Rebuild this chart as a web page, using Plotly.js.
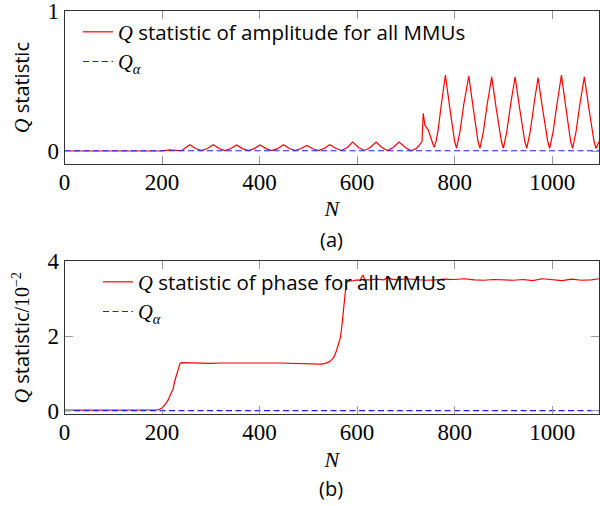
<!DOCTYPE html>
<html>
<head>
<meta charset="utf-8">
<script src="https://cdn.plot.ly/plotly-3.0.1.min.js"></script>
<style>html,body{margin:0;padding:0;background:#fff;}</style>
</head>
<body>
<div id="chart" style="width:600px;height:506px;"></div>
<script>
// ---- data ----
const ampN = [0, 200, 215, 230, 240,
  257, 269, 281, 293,
  305, 317, 329, 341,
  353, 365, 377, 389,
  401, 413, 425, 437,
  449, 461, 473, 485,
  497, 509, 520, 532,
  544, 556, 568, 580,
  591, 603, 615, 627,
  639, 651, 662, 674,
  686, 699, 711, 722, 733, 735.6, 739, 746, 752.7, 758, 762, 766, 773,
  781, 790, 797, 800, 804, 807, 811, 819,
  829, 838, 845, 848, 852, 855, 859, 867,
  876, 885, 892, 896, 900, 903, 907, 915,
  924, 933, 940, 944, 948, 951, 955, 963,
  971, 980, 987, 991, 995, 998, 1002, 1010,
  1019, 1028, 1035, 1038, 1042, 1045, 1049, 1057,
  1066, 1075, 1082, 1086, 1090, 1093, 1096];
const ampQ = [0, 0, 0.008, 0.006, 0.002,
  0.045, 0.018, 0.003, 0.018,
  0.045, 0.018, 0.003, 0.018,
  0.043, 0.017, 0.003, 0.017,
  0.043, 0.017, 0.003, 0.017,
  0.045, 0.018, 0.003, 0.018,
  0.040, 0.016, 0.003, 0.018,
  0.045, 0.020, 0.004, 0.025,
  0.064, 0.025, 0.004, 0.025,
  0.064, 0.025, 0.004, 0.025,
  0.064, 0.025, 0.002, 0.020, 0.066, 0.270, 0.186, 0.150, 0.079, 0.026, 0.070, 0.150, 0.340,
  0.543, 0.31, 0.14, 0.066, 0.020, 0.066, 0.14, 0.34,
  0.536, 0.31, 0.14, 0.066, 0.020, 0.066, 0.14, 0.34,
  0.531, 0.31, 0.14, 0.066, 0.020, 0.066, 0.14, 0.34,
  0.531, 0.31, 0.14, 0.066, 0.020, 0.066, 0.14, 0.34,
  0.526, 0.31, 0.14, 0.066, 0.020, 0.066, 0.14, 0.34,
  0.543, 0.31, 0.14, 0.066, 0.020, 0.066, 0.14, 0.34,
  0.531, 0.31, 0.14, 0.066, 0.020, 0.045, 0.066];
const ampLimitN = [0, 1096];
const ampLimitQ = [0.002, 0.002];

const phN = [0, 50, 100, 150, 190, 196, 202, 208, 213, 216, 220, 223, 226, 230, 234, 237, 240,
  260, 280, 300, 320, 340, 360, 380, 400, 420, 440, 460, 480, 500, 515, 525, 535, 542, 548,
  553, 558, 563, 566, 569, 572, 575, 578, 582, 590, 600, 606, 612, 616, 625, 640, 655, 664,
  670, 685, 700, 720, 740, 760, 780, 800, 820, 840, 860, 880, 900, 920, 940, 960, 980, 1000,
  1020, 1040, 1060, 1080, 1096];
const phQ = [0.02, 0.02, 0.02, 0.02, 0.03, 0.05, 0.10, 0.20, 0.30, 0.40, 0.52, 0.60, 0.80, 0.98, 1.15, 1.27, 1.29,
  1.28, 1.28, 1.27, 1.28, 1.27, 1.28, 1.28, 1.27, 1.28, 1.28, 1.27, 1.27, 1.26, 1.25, 1.25, 1.27, 1.31, 1.37,
  1.45, 1.62, 1.88, 1.97, 2.30, 2.75, 3.15, 3.45, 3.48, 3.47, 3.50, 3.49, 3.63, 3.50, 3.50, 3.52, 3.50, 3.58,
  3.52, 3.50, 3.53, 3.51, 3.49, 3.50, 3.52, 3.51, 3.53, 3.50, 3.49, 3.51, 3.50, 3.49, 3.51, 3.48, 3.53, 3.50,
  3.48, 3.52, 3.49, 3.50, 3.53];
const phLimitN = [0, 1096];
const phLimitQ = [0.01, 0.01];

const xTicks = [0, 200, 400, 600, 800, 1000];
const yTicksTop = [0, 1];
const yTicksBottom = [0, 2, 4];

// ---- styling ----
const SERIF = 'Liberation Serif';
const SANS = 'Open Sans';
const qI = `<span style="font-family:${SERIF}"><i>Q</i></span>`;
const qAlpha = `<span style="font-family:${SERIF}"><i>Q</i><sub><i>α</i></sub></span>`;

const red = {color: '#ff0000', width: 1.2};
const blue = {color: '#1f1fff', width: 1.2, dash: '6px,3.5px'};

const traces = [
  {x: ampN, y: ampQ, type: 'scatter', mode: 'lines', line: red, xaxis: 'x', yaxis: 'y',
   name: qI + ' statistic of amplitude for all MMUs', legend: 'legend'},
  {x: ampLimitN, y: ampLimitQ, type: 'scatter', mode: 'lines', line: blue, xaxis: 'x', yaxis: 'y',
   name: qAlpha, legend: 'legend'},
  {x: phN, y: phQ, type: 'scatter', mode: 'lines', line: red, xaxis: 'x2', yaxis: 'y2',
   name: qI + ' statistic of phase for all MMUs', legend: 'legend2'},
  {x: phLimitN, y: phLimitQ, type: 'scatter', mode: 'lines', line: blue, xaxis: 'x2', yaxis: 'y2',
   name: qAlpha, legend: 'legend2'}
];

const axCommon = {
  showline: true, linecolor: '#333', linewidth: 1, mirror: 'allticks',
  ticks: 'inside', ticklen: 8, tickcolor: '#999', tickwidth: 1,
  showgrid: false, zeroline: false, automargin: false, ticklabeloverflow: 'allow',
  tickfont: {family: SERIF, size: 23, color: '#000'}
};
const xDomain = [64.5 / 600, 599 / 600];

const layout = {
  width: 600, height: 506,
  margin: {l: 0, r: 0, t: 0, b: 0},
  paper_bgcolor: '#fff', plot_bgcolor: '#fff',
  font: {family: SANS, color: '#000'},
  showlegend: true,
  xaxis: Object.assign({}, axCommon, {domain: xDomain, anchor: 'y', range: [0, 1096],
    tickmode: 'array', tickvals: xTicks, ticklabelstandoff: -3,
    title: {text: '<i>N</i>', font: {family: SERIF, size: 22}, standoff: 7}}),
  yaxis: Object.assign({}, axCommon, {domain: [1 - 164 / 506, 1 - 11 / 506], anchor: 'x', range: [-0.093, 1.002],
    tickmode: 'array', tickvals: yTicksTop,
    title: {text: qI + ' statistic', font: {family: SANS, size: 20}, standoff: 12}}),
  xaxis2: Object.assign({}, axCommon, {domain: xDomain, anchor: 'y2', range: [0, 1096],
    tickmode: 'array', tickvals: xTicks, ticklabelstandoff: -3,
    title: {text: '<i>N</i>', font: {family: SERIF, size: 22}, standoff: 7}}),
  yaxis2: Object.assign({}, axCommon, {domain: [1 - 414.3 / 506, 1 - 261 / 506], anchor: 'x2', range: [-0.09, 4.004],
    tickmode: 'array', tickvals: yTicksBottom,
    title: {text: qI + ' statistic<span style="font-family:' + SERIF + '">/10<sup>−2</sup></span>', font: {family: SANS, size: 20}, standoff: 12}}),
  legend: {x: 78 / 600, xanchor: 'left', y: 1 - 12 / 506, yanchor: 'top',
    bgcolor: 'rgba(0,0,0,0)', borderwidth: 0, font: {family: SANS, size: 20.5, color: '#000'},
    traceorder: 'normal'},
  legend2: {x: 98 / 600, xanchor: 'left', y: 1 - 262 / 506, yanchor: 'top',
    bgcolor: 'rgba(0,0,0,0)', borderwidth: 0, font: {family: SANS, size: 20.5, color: '#000'},
    traceorder: 'normal'},
  annotations: [
    {text: '(a)', xref: 'paper', yref: 'paper', x: 331 / 600, y: 1 - 240 / 506, xanchor: 'center', yanchor: 'middle',
     showarrow: false, font: {family: SANS, size: 20, color: '#000'}},
    {text: '(b)', xref: 'paper', yref: 'paper', x: 331 / 600, y: 1 - 488 / 506, xanchor: 'center', yanchor: 'middle',
     showarrow: false, font: {family: SANS, size: 20, color: '#000'}}
  ]
};

Plotly.newPlot('chart', traces, layout, {staticPlot: true, displayModeBar: false});
</script>
</body>
</html>
